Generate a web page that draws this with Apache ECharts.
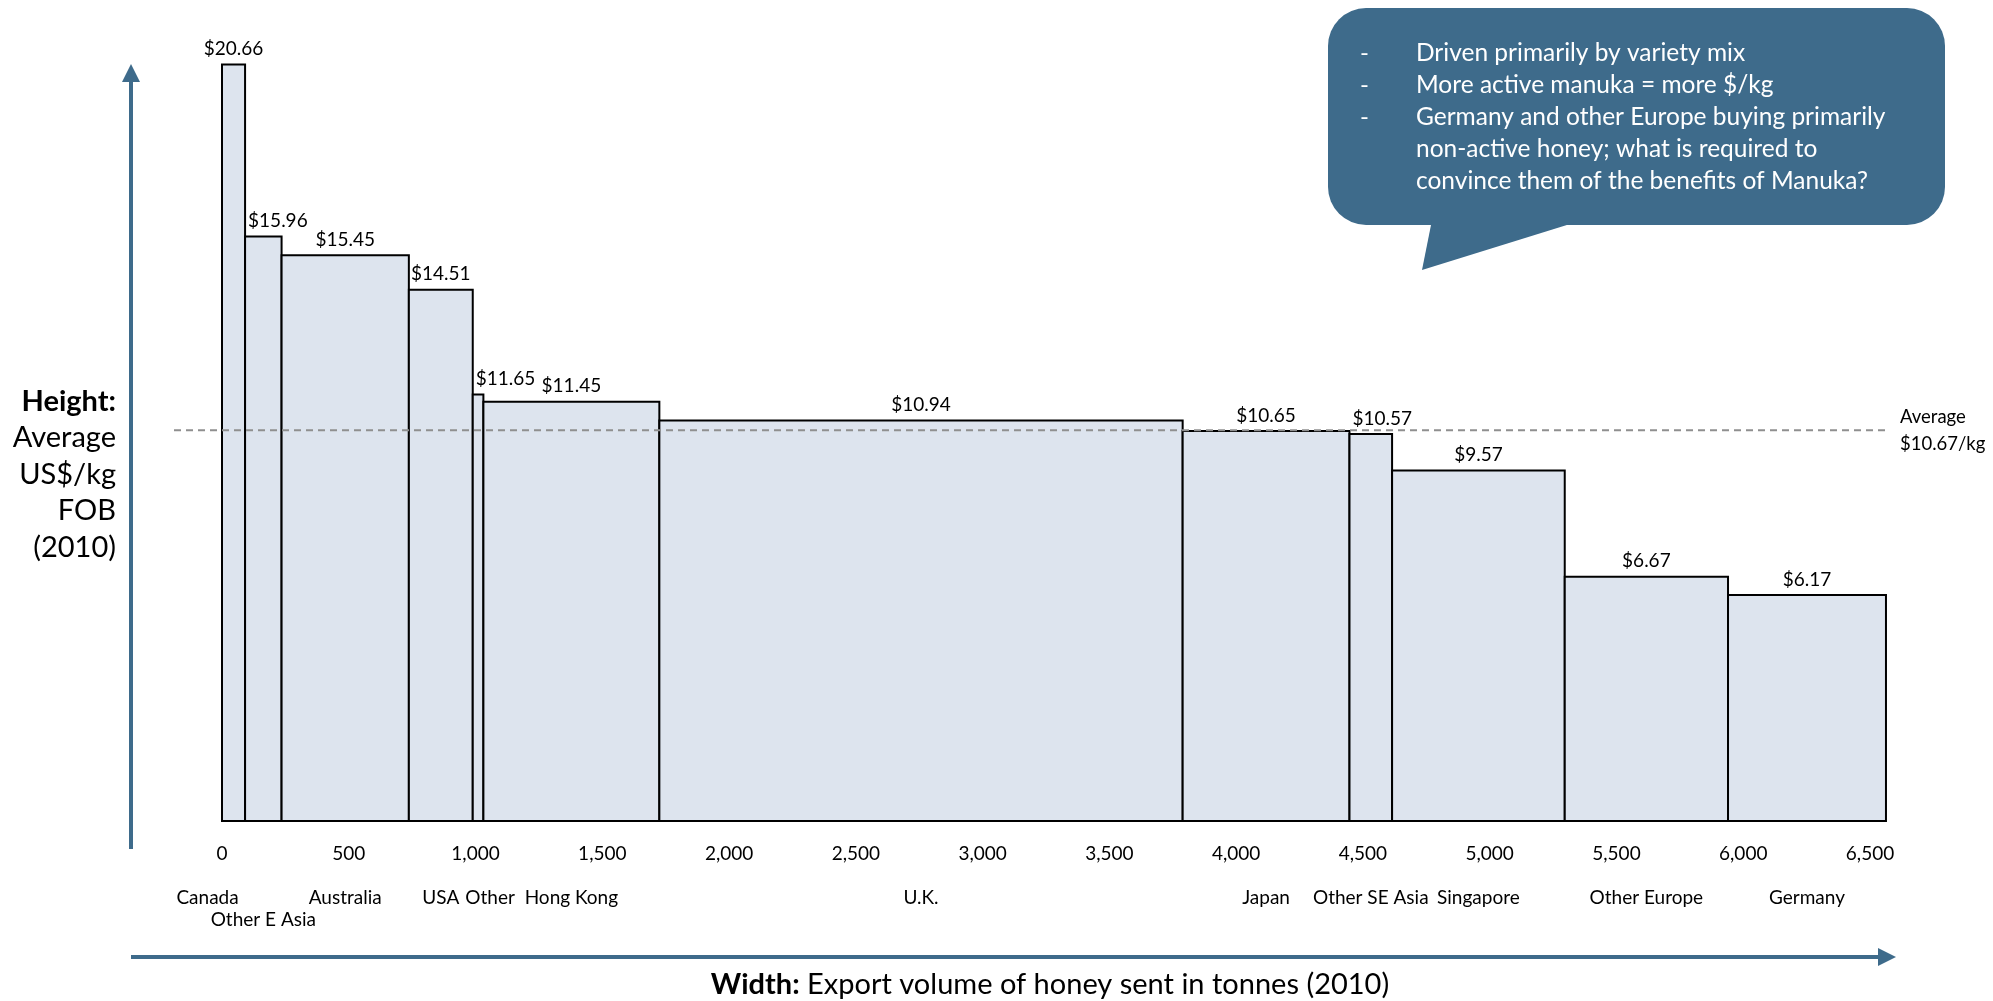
<!DOCTYPE html>
<html>
<head>
<meta charset="utf-8">
<script src="https://cdn.jsdelivr.net/npm/echarts@6/dist/echarts.min.js"></script>
<style>
  html, body { margin: 0; padding: 0; background: #fff; }
  #chart { width: 1993px; height: 1001px; }
</style>
</head>
<body>
<div id="chart"></div>
<script>
// Export markets, ordered by price
const markets = ['Canada', 'Other E Asia', 'Australia', 'USA', 'Other', 'Hong Kong',
                 'U.K.', 'Japan', 'Other SE Asia', 'Singapore', 'Other Europe', 'Germany'];
// Export volume in tonnes (bar width)
const volumes = [91, 144, 502, 252, 42, 694, 2064, 658, 168, 681, 644, 623];
// Average price US$/kg FOB (bar height)
const prices = [20.66, 15.96, 15.45, 14.51, 11.65, 11.45, 10.94, 10.65, 10.57, 9.57, 6.67, 6.17];
// Volume-weighted average price
const averagePrice = 10.67;
// Axis tick values
const xTickValues = [0, 500, 1000, 1500, 2000, 2500, 3000, 3500, 4000, 4500, 5000, 5500, 6000, 6500];
// Callout notes
const notes = [
  ['-', 'Driven primarily by variety mix'],
  ['-', 'More active manuka = more $/kg'],
  ['-', 'Germany and other Europe buying primarily'],
  ['', 'non-active honey; what is required to'],
  ['', 'convince them of the benefits of Manuka?']
];

const FONT = 'Lato, "Open Sans", sans-serif';
const BLUE = '#3e6b8b';

// cumulative start / end for each market
let acc = 0;
const rows = markets.map((m, i) => {
  const s = acc;
  acc += volumes[i];
  return [s, acc, prices[i]];
});
const totalVolume = acc;

// small horizontal nudges for crowded category names
const nameShift = { 'Canada': -26, 'Other': 12 };
const lowerRow = { 'Other E Asia': true };

function renderBar(params, api) {
  const x0 = api.value(0), x1 = api.value(1), p = api.value(2);
  const name = markets[params.dataIndex];
  const tl = api.coord([x0, p]);
  const br = api.coord([x1, 0]);
  const w = br[0] - tl[0];
  const cx = (tl[0] + br[0]) / 2;
  const narrow = w < 55 && params.dataIndex > 0;
  return {
    type: 'group',
    children: [
      {
        type: 'rect',
        shape: { x: tl[0], y: tl[1], width: w, height: br[1] - tl[1] },
        style: { fill: '#dde4ee', stroke: '#000', lineWidth: 2 }
      },
      {
        type: 'text',
        style: {
          text: '$' + p.toFixed(2),
          x: narrow ? tl[0] + 3 : cx,
          y: tl[1] - 6,
          align: narrow ? 'left' : 'center',
          verticalAlign: 'bottom',
          font: '19px ' + FONT,
          fill: '#000'
        }
      },
      {
        type: 'text',
        style: {
          text: name,
          x: cx + (nameShift[name] || 0),
          y: br[1] + (lowerRow[name] ? 99 : 77),
          align: 'center',
          verticalAlign: 'middle',
          font: '19px ' + FONT,
          fill: '#000'
        }
      }
    ]
  };
}

function renderAverage(params, api) {
  const left = api.coord([0, api.value(0)]);
  const right = api.coord([totalVolume, api.value(0)]);
  return {
    type: 'group',
    children: [
      {
        type: 'line',
        shape: { x1: left[0] - 48, y1: left[1], x2: right[0], y2: right[1] },
        style: { stroke: '#8f8f8f', lineWidth: 2, lineDash: [7, 5] }
      },
      {
        type: 'text',
        style: {
          text: 'Average\n$' + averagePrice.toFixed(2) + '/kg',
          x: right[0] + 14,
          y: right[1],
          align: 'left',
          verticalAlign: 'middle',
          lineHeight: 27,
          font: '18.5px ' + FONT,
          fill: '#000'
        }
      }
    ]
  };
}

const graphics = [
  // vertical arrow
  { type: 'line', shape: { x1: 131, y1: 849, x2: 131, y2: 78 }, style: { stroke: BLUE, lineWidth: 4 } },
  { type: 'polygon', shape: { points: [[122, 82], [140, 82], [131, 64]] }, style: { fill: BLUE } },
  // horizontal arrow
  { type: 'line', shape: { x1: 131, y1: 957, x2: 1882, y2: 957 }, style: { stroke: BLUE, lineWidth: 4 } },
  { type: 'polygon', shape: { points: [[1878, 948], [1878, 966], [1896, 957]] }, style: { fill: BLUE } },
  // axis titles
  {
    type: 'text',
    style: {
      text: '{b|Height:}\nAverage\nUS$/kg\nFOB\n(2010)',
      x: 116, y: 383, align: 'right', verticalAlign: 'top',
      font: '29px ' + FONT, lineHeight: 36.5, fill: '#000',
      rich: { b: { font: 'bold 29px ' + FONT, lineHeight: 36.5, fill: '#000' } }
    }
  },
  {
    type: 'text',
    style: {
      text: '{b|Width:} Export volume of honey sent in tonnes (2010)',
      x: 1050, y: 985, align: 'center', verticalAlign: 'middle',
      font: '29px ' + FONT, fill: '#000',
      rich: { b: { font: 'bold 29px ' + FONT, fill: '#000' } }
    }
  },
  // callout bubble
  { type: 'rect', shape: { x: 1328, y: 8, width: 617, height: 217, r: 38 }, style: { fill: BLUE } },
  { type: 'polygon', shape: { points: [[1432, 220], [1583, 220], [1422, 270]] }, style: { fill: BLUE } }
];

notes.forEach((n, i) => {
  const y = 53 + i * 32;
  if (n[0]) {
    graphics.push({ type: 'text', style: { text: n[0], x: 1360, y, align: 'left', verticalAlign: 'middle', font: '24px ' + FONT, fill: '#fff' } });
  }
  graphics.push({ type: 'text', style: { text: n[1], x: 1416, y, align: 'left', verticalAlign: 'middle', font: '24.5px ' + FONT, fill: '#fff' } });
});

const chart = echarts.init(document.getElementById('chart'));
chart.setOption({
  animation: false,
  backgroundColor: '#fff',
  grid: { left: 222, width: 1648, top: 52, height: 769 },
  xAxis: {
    type: 'value',
    min: xTickValues[0],
    max: xTickValues[xTickValues.length - 1],
    interval: xTickValues[1] - xTickValues[0],
    axisLine: { show: false },
    axisTick: { show: false },
    splitLine: { show: false },
    axisLabel: {
      margin: 23,
      fontFamily: FONT,
      fontSize: 19,
      color: '#000',
      formatter: v => v.toLocaleString('en-US')
    }
  },
  yAxis: { type: 'value', min: 0, max: 21, show: false },
  series: [
    { type: 'custom', renderItem: renderBar, data: rows, clip: false, encode: { x: [0, 1], y: 2 } },
    { type: 'custom', renderItem: renderAverage, data: [[averagePrice]], clip: false, z: 3, encode: { y: 0 } }
  ],
  graphic: graphics
});
</script>
</body>
</html>
